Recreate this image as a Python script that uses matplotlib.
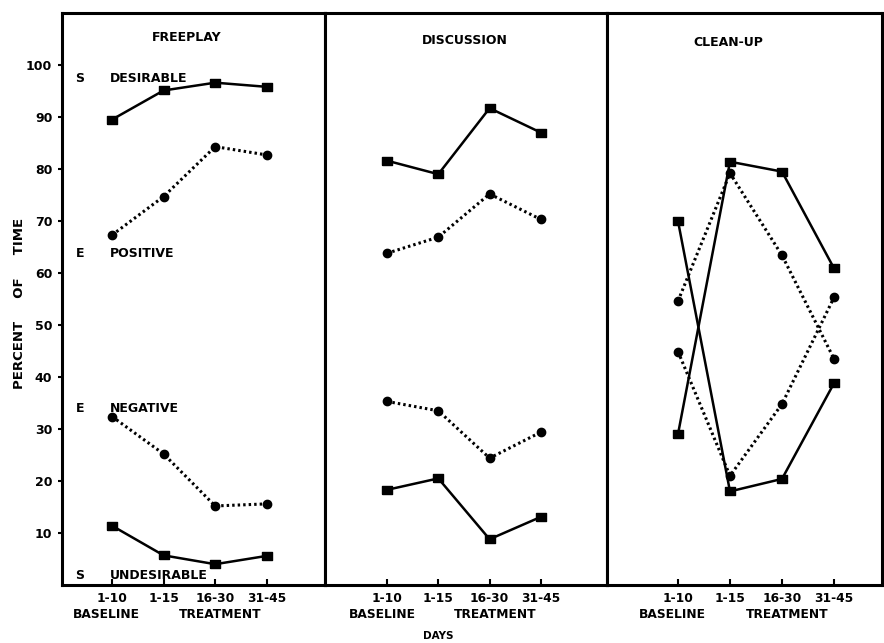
import matplotlib.pyplot as plt

# observation blocks along the x axis
day_ranges = ["1-10", "1-15", "16-30", "31-45"]
y_ticks = [10, 20, 30, 40, 50, 60, 70, 80, 90, 100]

# percent of time, FREEPLAY
freeplay_desirable = [89.5, 95.1, 96.6, 95.8]
freeplay_positive = [67.3, 74.7, 84.3, 82.7]
freeplay_negative = [32.4, 25.2, 15.2, 15.6]
freeplay_undesirable = [11.4, 5.7, 4.0, 5.6]

# percent of time, DISCUSSION
discussion_desirable = [81.6, 79.0, 91.7, 87.0]
discussion_positive = [63.8, 66.9, 75.2, 70.3]
discussion_negative = [35.3, 33.5, 24.4, 29.4]
discussion_undesirable = [18.3, 20.5, 8.8, 13.1]

# percent of time, CLEAN-UP
cleanup_desirable = [29.0, 81.4, 79.5, 60.9]
cleanup_positive = [54.6, 79.2, 63.4, 43.5]
cleanup_negative = [44.9, 21.0, 34.8, 55.3]
cleanup_undesirable = [70.0, 18.0, 20.4, 38.8]

FONT = dict(family="DejaVu Sans", weight="bold")
W, H = 884, 643
# flat rectangle used for the solid-line points
RECT = [(-1.4, -1), (1.4, -1), (1.4, 1), (-1.4, 1), (-1.4, -1)]


def add_panel(fig, left, right, xlim, top=13, bottom=585):
    ax = fig.add_axes([left / W, 1 - bottom / H, (right - left) / W, (bottom - top) / H])
    ax.set_xlim(*xlim)
    ax.set_ylim(0, 110)
    for side in ax.spines.values():
        side.set_linewidth(2.2)
    ax.set_xticks(range(len(day_ranges)))
    ax.set_xticklabels(day_ranges, fontsize=8.8, **FONT)
    ax.tick_params(axis="x", direction="in", length=4, width=1.5, pad=5)
    ax.set_yticks([])
    return ax


def draw_series(ax, desirable, positive, negative, undesirable):
    solid = dict(color="black", lw=1.8, marker=RECT, ms=7.5)
    dotted = dict(color="black", lw=2.2, ls=(0, (0.8, 1.0)), marker="o", ms=6)
    x = range(len(day_ranges))
    ax.plot(x, desirable, **solid)
    ax.plot(x, positive, **dotted)
    ax.plot(x, negative, **dotted)
    ax.plot(x, undesirable, **solid)


def phase_labels(ax, days=False):
    trans = ax.get_xaxis_transform()
    ax.text(-0.1, -0.052, "BASELINE", transform=trans, ha="center", va="center",
            fontsize=8.8, **FONT)
    ax.text(2.1, -0.052, "TREATMENT", transform=trans, ha="center", va="center",
            fontsize=8.8, **FONT)
    if days:
        ax.text(1.0, -0.089, "DAYS", transform=trans, ha="center", va="center",
                fontsize=7.5, **FONT)


fig = plt.figure(figsize=(8.84, 6.43), dpi=100)

ax1 = add_panel(fig, 62, 325, (-0.969, 4.128))
ax2 = add_panel(fig, 325, 607, (-1.209, 4.289))
ax3 = add_panel(fig, 607, 882, (-1.365, 3.923))

draw_series(ax1, freeplay_desirable, freeplay_positive, freeplay_negative, freeplay_undesirable)
draw_series(ax2, discussion_desirable, discussion_positive, discussion_negative, discussion_undesirable)
draw_series(ax3, cleanup_desirable, cleanup_positive, cleanup_negative, cleanup_undesirable)

# y axis only on the first panel
ax1.set_yticks(y_ticks)
ax1.set_yticklabels([str(v) for v in y_ticks], fontsize=9, **FONT)
ax1.tick_params(axis="y", direction="out", length=3, width=1.5, pad=4)

ax1.text(1.45, 105.2, "FREEPLAY", ha="center", va="center", fontsize=9, **FONT)
ax2.text(1.52, 104.8, "DISCUSSION", ha="center", va="center", fontsize=9, **FONT)
ax3.text(0.96, 104.4, "CLEAN-UP", ha="center", va="center", fontsize=9, **FONT)

# category key inside the freeplay panel
for letter, name, y in [("S", "DESIRABLE", 97.5), ("E", "POSITIVE", 63.8),
                        ("E", "NEGATIVE", 34.0), ("S", "UNDESIRABLE", 1.9)]:
    ax1.text(-0.62, y, letter, ha="center", va="center", fontsize=9, **FONT)
    ax1.text(-0.04, y, name, ha="left", va="center", fontsize=9, **FONT)

phase_labels(ax1)
phase_labels(ax2, days=True)
phase_labels(ax3)

fig.text(20 / W, 1 - 303 / H, "PERCENT     OF     TIME", rotation=90,
         ha="center", va="center", fontsize=9.5, **FONT)

fig.savefig("out.png", dpi=100, facecolor="white")
